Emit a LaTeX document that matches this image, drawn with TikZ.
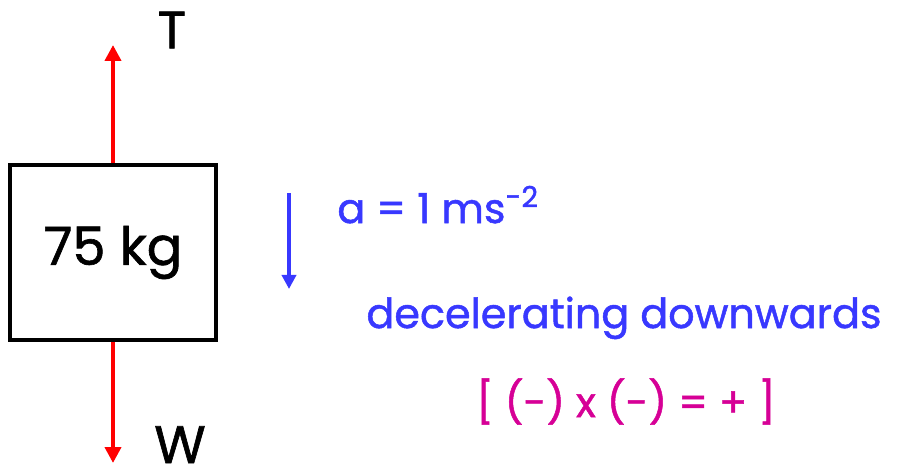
\documentclass[tikz,border=0pt]{standalone}
\usepackage{fontspec}
\setmainfont{Poppins}[FakeBold=1.2]
\usepackage[dvipsnames]{xcolor}
\usetikzlibrary{arrows.meta}
\usetikzlibrary{positioning}

\definecolor{forcered}{RGB}{255,0,0}
\definecolor{accblue}{RGB}{56,56,255}
\definecolor{signpink}{RGB}{214,0,150}

\begin{document}
\begin{tikzpicture}[
    force/.style={line width=2.2pt, forcered, -{Triangle[length=9pt,width=9pt]}},
    accarrow/.style={line width=2pt, accblue, -{Triangle[length=8pt,width=8pt]}},
    bigtext/.style={font=\fontsize{30}{33}\selectfont},
    bluetext/.style={font=\fontsize{23.5}{26}\selectfont},
  ]
    \useasboundingbox (0,0) rectangle (18.16,9.46);

    % Mass
    \node[draw, line width=2.2pt, minimum width=4.12cm, minimum height=3.5cm,
          bigtext] (mass) at (2.26,4.41) {75 kg};

    % Forces T and W
    \coordinate (tipT) at (2.26,8.56);
    \coordinate (tipW) at (2.26,0.2);
    \draw[force] (mass.north) -- (tipT);
    \draw[force] (mass.south) -- (tipW);
    \node[bigtext] (labT) at (3.44,8.86) {T};
    \node[bigtext, anchor=base] (labW) at (3.6,0.2) {W};

    % Acceleration
    \coordinate (accTop) at (5.78,5.6);
    \coordinate (accTip) at (5.78,3.68);
    \draw[accarrow] (accTop) -- (accTip);
    \node[bluetext, accblue, anchor=base west, inner sep=0pt] (acc) at (6.74,5.0)
        {a = 1 ms\textsuperscript{-2}};
    \node[bluetext, accblue, anchor=base] (decel) at (12.48,2.9)
        {decelerating downwards};
    \node[bluetext, signpink, anchor=base] (signs) at (12.52,1.12)
        {[ (-) x (-) = + ]};
\end{tikzpicture}
\end{document}
